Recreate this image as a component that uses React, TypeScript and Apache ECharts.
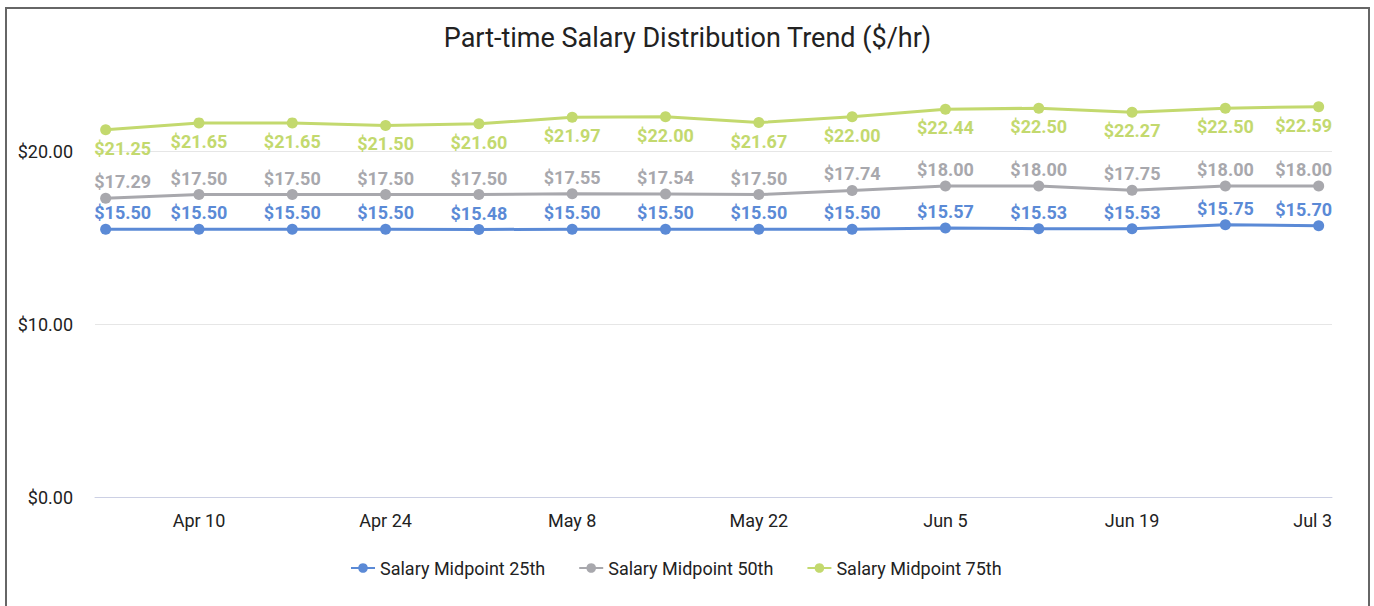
import React, { useEffect, useRef } from "react";
import * as echarts from "echarts";

const dates = ["Apr 3", "Apr 10", "Apr 17", "Apr 24", "May 1", "May 8", "May 15", "May 22", "May 29", "Jun 5", "Jun 12", "Jun 19", "Jun 26", "Jul 3"];
const p25 = [15.5, 15.5, 15.5, 15.5, 15.48, 15.5, 15.5, 15.5, 15.5, 15.57, 15.53, 15.53, 15.75, 15.7];
const p50 = [17.29, 17.5, 17.5, 17.5, 17.5, 17.55, 17.54, 17.5, 17.74, 18.0, 18.0, 17.75, 18.0, 18.0];
const p75 = [21.25, 21.65, 21.65, 21.5, 21.6, 21.97, 22.0, 21.67, 22.0, 22.44, 22.5, 22.27, 22.5, 22.59];
const yTicks = [0, 10, 20];
const seriesNames = ["Salary Midpoint 25th", "Salary Midpoint 50th", "Salary Midpoint 75th"];

const FONT = "Roboto, 'Noto Sans', sans-serif";

export default function App() {
  const ref = useRef<HTMLDivElement>(null);
  useEffect(() => {
    if (!ref.current) return;
    const chart = echarts.init(ref.current, null, { renderer: "svg" });
    const dayX = dates.map((_, i) => i * 7);
    const xLabelValues = dayX.filter((_, i) => i % 2 === 1);
    const last = dates.length - 1;
    const mk = (name: string, vals: number[], color: string, pos: string, dist: number) => ({
      name,
      type: "line",
      data: vals.map((v, i) => {
        const item: any = { value: [dayX[i], v] };
        if (i === 0) item.label = { offset: [17, 0] };
        if (i === last) item.label = { offset: [-15, 0] };
        return item;
      }),
      symbol: "circle",
      symbolSize: 11,
      lineStyle: { color, width: 3 },
      itemStyle: { color },
      label: {
        show: true,
        position: pos,
        distance: dist,
        color,
        fontFamily: FONT,
        fontWeight: "bold",
        fontSize: 18,
        formatter: (p: any) => "$" + p.value[1].toFixed(2),
      },
    });
    chart.setOption({
      animation: false,
      textStyle: { fontFamily: FONT },
      title: {
        text: "Part-time Salary Distribution Trend ($/hr)",
        left: "center",
        top: 10,
        textStyle: { fontFamily: FONT, fontSize: 27, fontWeight: "normal", color: "#222" },
      },
      legend: {
        top: 545,
        left: 338,
        itemWidth: 24,
        itemHeight: 12,
        itemGap: 33,
        textStyle: { fontFamily: FONT, fontSize: 18, color: "#222" },
        data: seriesNames,
      },
      grid: { left: 88, right: 36, top: 56, bottom: 112 },
      xAxis: {
        type: "value",
        min: -0.8,
        max: 92,
        axisLine: { show: true, lineStyle: { color: "#ccd0e4", width: 1 } },
        axisTick: { show: false, customValues: xLabelValues },
        splitLine: { show: false },
        axisLabel: {
          customValues: xLabelValues,
          formatter: (v: number) => {
            const i = Math.round(v / 7);
            return i === last ? "{last|" + dates[i] + "}" : dates[i];
          },
          rich: { last: { fontFamily: FONT, fontSize: 18, color: "#222", padding: [0, 12, 0, 0] } },
          fontFamily: FONT,
          fontSize: 18,
          color: "#222",
          margin: 14,
        },
      },
      yAxis: {
        type: "value",
        min: 0,
        max: 25,
        axisLine: { show: false },
        axisTick: { show: false, customValues: yTicks },
        splitLine: { show: true, lineStyle: { color: "#e6e6e6", width: 1 } },
        axisLabel: {
          customValues: yTicks,
          formatter: (v: number) => "$" + v.toFixed(2),
          fontFamily: FONT,
          fontSize: 18,
          color: "#222",
          margin: 22,
        },
      },
      series: [
        mk(seriesNames[0], p25, "#5b8ad6", "top", 2),
        mk(seriesNames[1], p50, "#a8a8ad", "top", 2),
        mk(seriesNames[2], p75, "#c3d96e", "bottom", 4),
      ],
    });
    return () => chart.dispose();
  }, []);
  return (
    <div
      style={{
        position: "fixed",
        left: 5,
        top: 7,
        width: 1365,
        height: 620,
        border: "2px solid #666",
        boxSizing: "border-box",
        background: "#fff",
      }}
    >
      <div ref={ref} style={{ width: 1361, height: 600 }} />
    </div>
  );
}
